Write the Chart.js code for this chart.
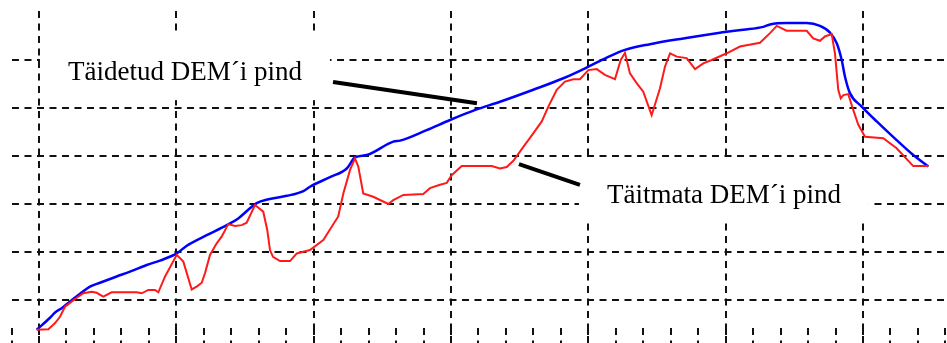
<!DOCTYPE html>
<html>
<head>
<meta charset="utf-8">
<script src="https://cdn.jsdelivr.net/npm/chart.js@4/dist/chart.umd.min.js"></script>
<style>
  html, body { margin: 0; padding: 0; background: #ffffff; }
  #wrap { width: 947px; height: 343px; }
</style>
</head>
<body>
<div id="wrap"><canvas id="c" width="947" height="343"></canvas></div>
<script>
// Profile along the section: distance (x) and surface height (y)
const filledX = [-1.7, 8.0, 11.7, 16.5, 22.6, 29.9, 37.1, 44.4, 56.6, 66.3, 78.4, 88.1, 100.3, 107.6,
  122.1, 136.7, 145.1, 153.6, 158.5, 167.0, 180.4, 192.5, 197.3, 211.9, 224.1, 230.1, 238.6, 258.0,
  262.9, 282.3, 299.3, 318.7, 335.7, 359.9, 381.8, 400.0, 413.4, 426.7, 444.9, 469.2, 495.9, 512.8,
  527.4, 532.3, 544.4, 559.0, 568.7, 576.0, 580.9, 584.5, 586.9, 590.5, 599.1, 610.0, 624.5, 636.6, 647.6];
const filledY = [93.8, 96.3, 97.4, 98.3, 99.7, 101.3, 102.8, 103.6, 104.9, 105.9, 107.3, 108.2, 109.7, 111.3,
  113.5, 115.6, 117.0, 119.1, 120.2, 121.0, 121.7, 122.7, 123.6, 125.6, 127.4, 129.7, 130.2, 133.0,
  133.2, 135.4, 137.5, 139.7, 141.3, 143.8, 146.2, 148.6, 150.5, 152.1, 153.3, 154.5, 155.7, 156.3,
  156.9, 157.4, 157.7, 157.7, 157.1, 155.7, 153.5, 150.0, 146.5, 143.1, 140.3, 137.2, 133.3, 130.2, 127.8];

const rawX = [-1.7, 6.8, 11.7, 15.3, 18.9, 22.6, 26.2, 32.3, 38.4, 42.0, 46.8, 52.9, 71.1, 74.8, 79.6,
  84.5, 86.9, 91.8, 100.3, 105.1, 111.2, 114.8, 118.5, 120.9, 124.5, 129.4, 133.0, 137.8, 142.7, 147.6,
  151.2, 157.3, 163.3, 166.2, 168.2, 170.4, 175.5, 182.8, 187.7, 197.3, 207.0, 217.9, 221.6, 226.5,
  230.1, 232.5, 236.1, 243.4, 254.4, 258.0, 265.3, 279.8, 284.7, 292.0, 296.9, 300.5, 307.8, 329.6,
  335.7, 340.6, 345.4, 352.7, 359.9, 366.1, 370.9, 377.0, 383.0, 389.1, 393.9, 400.0, 406.1, 412.1,
  419.4, 423.6, 426.7, 430.3, 435.2, 440.0, 446.1, 452.2, 455.8, 459.5, 464.4, 471.6, 477.7, 483.7,
  489.8, 500.8, 510.4, 525.0, 532.3, 537.2, 544.4, 559.0, 563.8, 568.7, 572.3, 577.2, 579.6, 582.0,
  583.8, 585.7, 589.3, 592.9, 596.6, 601.5, 614.8, 624.5, 636.6, 647.6];
const rawY = [93.8, 93.9, 95.2, 96.5, 98.6, 99.4, 100.2, 101.4, 101.7, 101.5, 100.7, 101.6, 101.6, 101.4, 102.1,
  102.1, 101.6, 104.9, 109.4, 108.0, 102.2, 102.8, 103.6, 105.6, 109.4, 111.8, 113.2, 115.8, 115.4, 115.6,
  116.1, 119.8, 118.4, 114.6, 110.4, 109.0, 108.1, 108.1, 109.7, 110.4, 112.5, 117.4, 122.2, 127.1,
  129.5, 127.8, 122.2, 121.5, 120.0, 120.8, 121.9, 122.1, 123.3, 124.0, 124.4, 126.0, 127.9, 127.9,
  127.4, 127.7, 129.0, 131.9, 134.7, 137.2, 140.3, 143.8, 145.5, 146.0, 146.0, 147.9, 148.1, 146.9,
  146.0, 150.0, 151.5, 147.2, 145.2, 143.4, 138.5, 144.1, 148.6, 151.4, 150.7, 150.4, 148.1, 149.3,
  150.0, 151.4, 152.8, 153.6, 155.6, 157.1, 156.1, 156.1, 154.5, 154.0, 154.9, 155.4, 151.4, 143.8,
  142.0, 142.7, 142.9, 139.6, 136.5, 134.0, 133.7, 131.6, 127.9, 127.9];

// Grid positions (major x every 100, minor x marks every 20, y every 10)
const xMajorTicks = [0, 100, 200, 300, 400, 500, 600];
const xMinorTicks = [-20, 0, 20, 40, 60, 80, 100, 120, 140, 160, 180, 200, 220, 240, 260, 280, 300,
  320, 340, 360, 380, 400, 420, 440, 460, 480, 500, 520, 540, 560, 580, 600, 620, 640, 660];
const yTicks = [100, 110, 120, 130, 140, 150];

// Callout labels: text, baseline anchor, leader line ends (data units)
const labelTexts = ['Täidetud DEM´i pind', 'Täitmata DEM´i pind'];
const labelX = [21.1, 413.6];
const labelY = [145.8, 120.2];
const leaderFromX = [214.1, 349.5];
const leaderFromY = [145.4, 128.3];
const leaderToX = [318.9, 393.9];
const leaderToY = [141.0, 124.0];

const toPoints = (xs, ys) => xs.map((x, i) => ({ x: x, y: ys[i] }));

const GRID_DASH = [7, 5.5];
const GRID_COLOR = '#111';

const decorations = {
  id: 'decorations',
  beforeDatasetsDraw(chart) {
    const ctx = chart.ctx;
    const xs = chart.scales.x, ys = chart.scales.y;
    const area = chart.chartArea;
    ctx.save();
    // short dashed tick marks along the bottom edge
    ctx.strokeStyle = GRID_COLOR;
    ctx.lineWidth = 2;
    ctx.setLineDash(GRID_DASH);
    xMinorTicks.forEach(v => {
      const px = Math.round(xs.getPixelForValue(v));
      ctx.beginPath();
      ctx.moveTo(px, area.bottom - 15);
      ctx.lineTo(px, area.bottom);
      ctx.stroke();
    });
    ctx.setLineDash([]);
    // callout labels on a white ground, with leader lines
    ctx.font = '27px "Liberation Serif", "Times New Roman", serif';
    ctx.textBaseline = 'alphabetic';
    labelTexts.forEach((t, i) => {
      const tx = xs.getPixelForValue(labelX[i]);
      const ty = ys.getPixelForValue(labelY[i]);
      const w = ctx.measureText(t).width;
      ctx.fillStyle = '#ffffff';
      ctx.fillRect(tx - 28, ty - 45, w + 56, 65);
      ctx.fillStyle = '#000000';
      ctx.fillText(t, tx, ty);
      ctx.strokeStyle = '#000000';
      ctx.lineWidth = 4;
      ctx.beginPath();
      ctx.moveTo(xs.getPixelForValue(leaderFromX[i]), ys.getPixelForValue(leaderFromY[i]));
      ctx.lineTo(xs.getPixelForValue(leaderToX[i]), ys.getPixelForValue(leaderToY[i]));
      ctx.stroke();
    });
    ctx.restore();
  }
};

new Chart(document.getElementById('c'), {
  type: 'line',
  data: {
    datasets: [
      {
        label: 'Täitmata DEM´i pind',
        data: toPoints(rawX, rawY),
        borderColor: '#ff1a1a',
        borderWidth: 2,
        pointRadius: 0,
        tension: 0,
        fill: false
      },
      {
        label: 'Täidetud DEM´i pind',
        data: toPoints(filledX, filledY),
        borderColor: '#0000ff',
        borderWidth: 2.5,
        pointRadius: 0,
        cubicInterpolationMode: 'monotone',
        fill: false
      }
    ]
  },
  options: {
    responsive: false,
    devicePixelRatio: 1,
    animation: false,
    layout: { padding: { left: 12, top: 11, right: 0, bottom: 0 } },
    plugins: { legend: { display: false }, tooltip: { enabled: false } },
    scales: {
      x: {
        type: 'linear',
        min: -19.66,
        max: 661.18,
        afterBuildTicks: s => { s.ticks = xMajorTicks.map(v => ({ value: v })); },
        ticks: { display: false },
        border: { display: false, dash: GRID_DASH },
        grid: { color: GRID_COLOR, lineWidth: 2, drawTicks: false }
      },
      y: {
        type: 'linear',
        min: 91.04,
        max: 160.21,
        afterBuildTicks: s => { s.ticks = yTicks.map(v => ({ value: v })); },
        ticks: { display: false },
        border: { display: false, dash: GRID_DASH },
        grid: { color: GRID_COLOR, lineWidth: 2, drawTicks: false }
      }
    }
  },
  plugins: [decorations]
});
</script>
</body>
</html>
